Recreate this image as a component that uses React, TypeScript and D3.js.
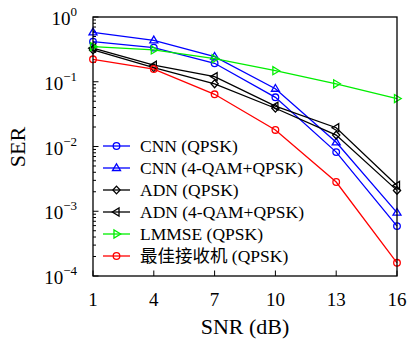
import React from "react";
import * as d3 from "d3";

const snr = [1, 4, 7, 10, 13, 16];
const cnnQpsk = [0.416, 0.336, 0.193, 0.0575, 0.0082, 0.00059];
const cnnMix = [0.58, 0.436, 0.244, 0.078, 0.0116, 0.00095];
const adnQpsk = [0.31, 0.165, 0.093, 0.039, 0.015, 0.0021];
const adnMix = [0.33, 0.18, 0.12, 0.042, 0.0195, 0.0025];
const lmmse = [0.348, 0.31, 0.227, 0.148, 0.093, 0.055];
const optimal = [0.222, 0.157, 0.064, 0.018, 0.00283, 0.00016];
const xTicks = [1, 4, 7, 10, 13, 16];
const yExps = [0, -1, -2, -3, -4];

type Series = { name: string; values: number[]; color: string; marker: string };
const series: Series[] = [
  { name: "CNN (QPSK)", values: cnnQpsk, color: "#0000ff", marker: "circle" },
  { name: "CNN (4-QAM+QPSK)", values: cnnMix, color: "#0000ff", marker: "triUp" },
  { name: "ADN (QPSK)", values: adnQpsk, color: "#000000", marker: "diamond" },
  { name: "ADN (4-QAM+QPSK)", values: adnMix, color: "#000000", marker: "triLeft" },
  { name: "LMMSE (QPSK)", values: lmmse, color: "#00ee00", marker: "triRight" },
  { name: "最佳接收机 (QPSK)", values: optimal, color: "#ff0000", marker: "circle" },
];

const L = 93, R = 397, T = 17, B = 276;
const font = "'Liberation Serif', 'Times New Roman', 'Noto Sans CJK SC', serif";

function Marker({ type, x, y, color }: { type: string; x: number; y: number; color: string }) {
  const s = 3.6;
  const common = { fill: "none", stroke: color, strokeWidth: 1.3 };
  if (type === "circle") return <circle cx={x} cy={y} r={3.3} {...common} />;
  let pts: number[][] = [];
  if (type === "triUp") pts = [[0, -s - 0.6], [s + 0.4, s * 0.7], [-s - 0.4, s * 0.7]];
  if (type === "triLeft") pts = [[-s - 0.6, 0], [s * 0.7, -s - 0.4], [s * 0.7, s + 0.4]];
  if (type === "triRight") pts = [[s + 0.6, 0], [-s * 0.7, -s - 0.4], [-s * 0.7, s + 0.4]];
  if (type === "diamond") pts = [[0, -s - 0.3], [s, 0], [0, s + 0.3], [-s, 0]];
  return <polygon points={pts.map((p) => `${x + p[0]},${y + p[1]}`).join(" ")} {...common} />;
}

export default function App() {
  const x = d3.scaleLinear().domain([1, 16]).range([L, R]);
  const y = d3.scaleLog().domain([1e-4, 1]).range([B, T]);
  const line = d3
    .line<number>()
    .x((_, i) => x(snr[i]))
    .y((d) => y(d));

  const minor: number[] = [];
  for (let e = -4; e < 0; e++) for (let k = 2; k <= 9; k++) minor.push(k * Math.pow(10, e));

  return (
    <svg width={408} height={343} style={{ position: "absolute", left: 0, top: 0 }} fontFamily={font}>
      <rect x={0} y={0} width={408} height={343} fill="#fff" />
      {minor.map((v, i) => (
        <line key={"m" + i} x1={L} x2={L + 3} y1={y(v)} y2={y(v)} stroke="#000" strokeWidth={1} />
      ))}
      {yExps.map((e) => (
        <line key={"M" + e} x1={L} x2={L + 5.5} y1={y(Math.pow(10, e))} y2={y(Math.pow(10, e))} stroke="#000" strokeWidth={1} />
      ))}
      {xTicks.map((t) => (
        <line key={"x" + t} x1={x(t)} x2={x(t)} y1={B} y2={B - 5.5} stroke="#000" strokeWidth={1} />
      ))}
      {series.map((s) => (
        <g key={s.name}>
          <path d={line(s.values) || ""} fill="none" stroke={s.color} strokeWidth={1.3} />
          {s.values.map((v, i) => (
            <Marker key={i} type={s.marker} x={x(snr[i])} y={y(v)} color={s.color} />
          ))}
        </g>
      ))}
      <rect x={L} y={T} width={R - L} height={B - T} fill="none" stroke="#000" strokeWidth={1.3} />
      {yExps.map((e) => (
        <text key={"yl" + e} x={77} y={y(Math.pow(10, e)) + 8} textAnchor="end" fontSize={19} fill="#000">
          10
          <tspan dy={-9} fontSize={13}>
            {e === 0 ? "0" : "\u2212" + -e}
          </tspan>
        </text>
      ))}
      {xTicks.map((t) => (
        <text key={"xl" + t} x={x(t)} y={306} textAnchor="middle" fontSize={19} fill="#000">
          {t}
        </text>
      ))}
      <text x={245} y={334} textAnchor="middle" fontSize={22} fill="#000">
        SNR (dB)
      </text>
      <text transform="translate(25,147) rotate(-90)" textAnchor="middle" fontSize={22} fill="#000">
        SER
      </text>
      {series.map((s, i) => {
        const ly = 146 + i * 22;
        return (
          <g key={"lg" + i}>
            <line x1={103} x2={130} y1={ly} y2={ly} stroke={s.color} strokeWidth={1.3} />
            <Marker type={s.marker} x={116.5} y={ly} color={s.color} />
            <text x={140} y={ly + 5.5} fontSize={17.5} fill="#000">
              {s.name}
            </text>
          </g>
        );
      })}
    </svg>
  );
}
